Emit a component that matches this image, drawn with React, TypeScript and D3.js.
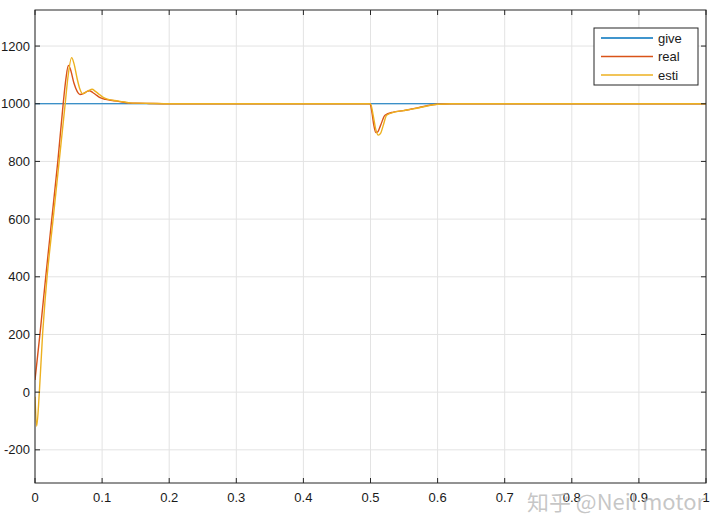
import * as d3 from 'd3';
import * as React from 'react';

// time (s) and speed samples
const giveT = [0, 1];
const giveV = [1000, 1000];

const realT = [0, 0.0075, 0.016, 0.025, 0.034, 0.042, 0.046, 0.0497, 0.053, 0.058, 0.063, 0.067, 0.072, 0.077, 0.081, 0.086, 0.092, 0.097, 0.105, 0.113, 0.122, 0.13, 0.139, 0.15, 0.17, 0.2, 0.4993, 0.502, 0.505, 0.508, 0.511, 0.515, 0.5216, 0.534, 0.549, 0.556, 0.564, 0.574, 0.584, 0.599, 0.62, 1];
const realV = [42, 204, 400, 600, 800, 1000, 1085, 1133, 1118, 1072, 1042, 1032, 1035, 1042, 1045, 1039, 1029, 1021, 1015, 1012, 1009, 1006, 1003, 1002, 1001, 1000, 1000, 972, 925, 900, 903, 925, 960, 971, 976, 979, 983, 988, 993, 998, 1000, 1000];

const estiT = [0, 0.0025, 0.0064, 0.0114, 0.015, 0.018, 0.027, 0.036, 0.045, 0.049, 0.0546, 0.058, 0.063, 0.067, 0.071, 0.076, 0.081, 0.085, 0.09, 0.096, 0.101, 0.108, 0.116, 0.125, 0.133, 0.142, 0.155, 0.175, 0.2, 0.5, 0.504, 0.508, 0.5116, 0.515, 0.519, 0.524, 0.534, 0.549, 0.556, 0.564, 0.574, 0.584, 0.6, 0.62, 1];
const estiV = [-16, -118, -3, 204, 319, 400, 600, 800, 1000, 1090, 1160, 1140, 1085, 1050, 1035, 1040, 1047, 1050, 1043, 1032, 1023, 1016, 1012, 1009, 1006, 1003, 1002, 1001, 1000, 1000, 960, 910, 891, 897, 925, 960, 970, 976, 979, 982, 987, 992, 998, 1000, 1000];

const xTicks = [0, 0.1, 0.2, 0.3, 0.4, 0.5, 0.6, 0.7, 0.8, 0.9, 1];
const yTicks = [-200, 0, 200, 400, 600, 800, 1000, 1200];

const seriesNames = ['give', 'real', 'esti'];
const seriesColors = ['#0072BD', '#D95319', '#EDB120'];

const font = '"Liberation Sans", Arial, sans-serif';

export default function App() {
  const left = 35, right = 706, top = 10, bottom = 483;
  const x = d3.scaleLinear().domain([0, 1]).range([left, right]);
  const y = d3.scaleLinear().domain([-315, 1325]).range([bottom, top]);

  const line = d3.line<[number, number]>()
    .x(d => x(d[0]))
    .y(d => y(d[1]))
    .curve(d3.curveMonotoneX);

  const series = [
    d3.zip(giveT, giveV) as [number, number][],
    d3.zip(realT, realV) as [number, number][],
    d3.zip(estiT, estiV) as [number, number][],
  ];

  const tickLen = 5;
  const axisColor = '#262626';

  return (
    <div style={{ position: 'absolute', left: 0, top: 0 }}>
      <svg width={720} height={530} style={{ display: 'block', background: '#fff' }}>
        {/* grid */}
        <g stroke="#e3e3e3" strokeWidth={1}>
          {xTicks.map(t => (
            <line key={'gx' + t} x1={x(t)} x2={x(t)} y1={top} y2={bottom} />
          ))}
          {yTicks.map(t => (
            <line key={'gy' + t} x1={left} x2={right} y1={y(t)} y2={y(t)} />
          ))}
        </g>

        {/* data */}
        <defs>
          <clipPath id="plotClip">
            <rect x={left} y={top} width={right - left} height={bottom - top} />
          </clipPath>
        </defs>
        <g fill="none" clipPath="url(#plotClip)">
          {series.map((s, i) => (
            <path key={seriesNames[i]} d={line(s) || ''} stroke={seriesColors[i]} strokeWidth={i === 0 ? 1.2 : 1.4} />
          ))}
        </g>

        {/* box and ticks */}
        <rect x={left} y={top} width={right - left} height={bottom - top} fill="none" stroke={axisColor} strokeWidth={1} />
        <g stroke={axisColor} strokeWidth={1}>
          {xTicks.map(t => (
            <g key={'tx' + t}>
              <line x1={x(t)} x2={x(t)} y1={bottom} y2={bottom - tickLen} />
              <line x1={x(t)} x2={x(t)} y1={top} y2={top + tickLen} />
            </g>
          ))}
          {yTicks.map(t => (
            <g key={'ty' + t}>
              <line x1={left} x2={left + tickLen} y1={y(t)} y2={y(t)} />
              <line x1={right} x2={right - tickLen} y1={y(t)} y2={y(t)} />
            </g>
          ))}
        </g>

        {/* tick labels */}
        <g fontFamily={font} fontSize={13} fill="#1a1a1a">
          {xTicks.map(t => (
            <text key={'lx' + t} x={x(t)} y={502} textAnchor="middle">{d3.format('~g')(t)}</text>
          ))}
          {yTicks.map(t => (
            <text key={'ly' + t} x={left - 5} y={y(t) + 4.5} textAnchor="end">{t}</text>
          ))}
        </g>

        {/* legend */}
        <g fontFamily={font} fontSize={13}>
          <rect x={594} y={28} width={104} height={57} fill="#fff" stroke={axisColor} strokeWidth={1} />
          {seriesNames.map((name, i) => (
            <g key={'lg' + name}>
              <line x1={601} x2={653} y1={38 + i * 18.5} y2={38 + i * 18.5} stroke={seriesColors[i]} strokeWidth={1.3} />
              <text x={658} y={38 + i * 18.5 + 4.5} fill="#1a1a1a">{name}</text>
            </g>
          ))}
        </g>

        {/* watermark, drawn over the tick labels as in the reference */}
        <text x={527} y={510} fontFamily='"Noto Sans CJK SC", "Noto Sans", sans-serif' fontSize={21}
          fill="#b4b4b4" fillOpacity={0.75} textLength={178} lengthAdjust="spacingAndGlyphs">知乎 @Neil motor</text>
      </svg>
    </div>
  );
}
